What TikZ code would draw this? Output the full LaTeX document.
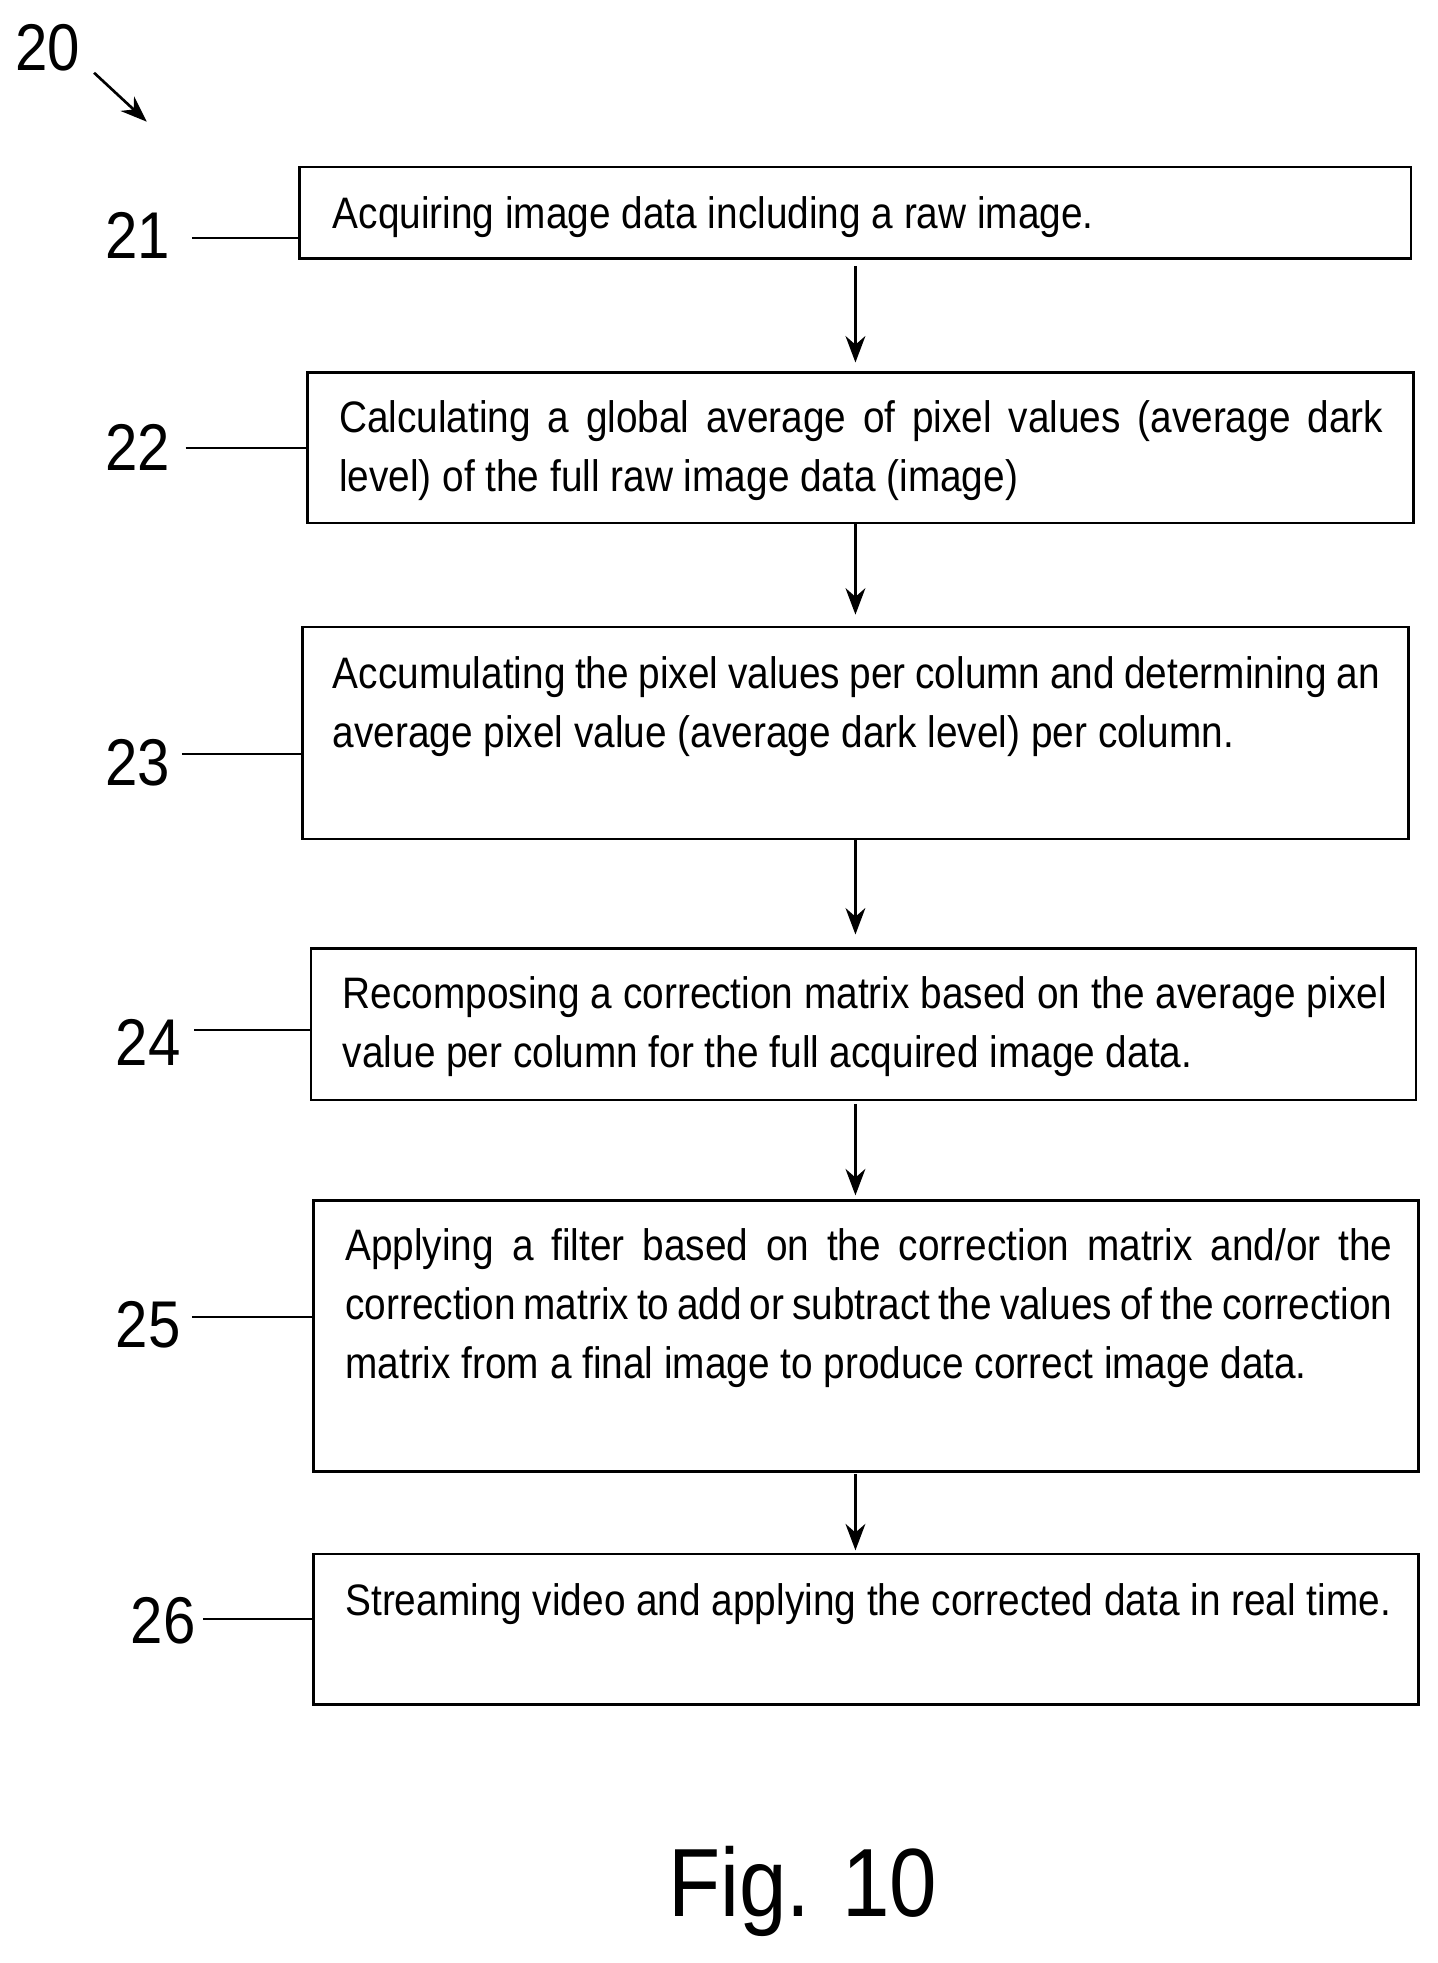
\documentclass[tikz,border=0pt]{standalone}
\usepackage{fontspec}
\setmainfont{Liberation Sans}[FakeStretch=0.88]
\usetikzlibrary{arrows.meta}
\newcommand\myNoHy{\hyphenpenalty=10000 \exhyphenpenalty=10000 }
\begin{document}
\begin{tikzpicture}[x=0.02cm,y=-0.02cm,
  box/.style={draw,line width=1.2pt},
  txt/.style={anchor=north west,inner sep=0pt,align=justify,font={\fontsize{20}{26.8}\selectfont\myNoHy}},
  lab/.style={font=\fontsize{30}{32}\selectfont,inner sep=0pt},
  arr/.style={line width=1.2pt,-{Stealth[length=12pt,width=9pt]}},
  lead/.style={line width=0.8pt}]
\useasboundingbox (0,0) rectangle (1146,1565);
% boxes
\draw[box] (239,133) rectangle (1125,206); \coordinate (b21w) at (239,190);
\draw[box] (245,297) rectangle (1127,417); \coordinate (b22w) at (245,357);
\draw[box] (241,500) rectangle (1123,669); \coordinate (b23w) at (241,601);
\draw[box] (248,756) rectangle (1129,877); \coordinate (b24w) at (248,821);
\draw[box] (250,957) rectangle (1131,1173); \coordinate (b25w) at (250,1050);
\draw[box] (250,1239) rectangle (1131,1359); \coordinate (b26w) at (250,1291);
% texts
\node[txt,text width=17.2cm] (t21) at (265,156) {Acquiring image data including a raw image.};
\node[txt,text width=16.65cm] (t22) at (270,319) {Calculating a global average of pixel values (average dark level) of the full raw image data (image)};
\node[txt,text width=16.7cm] (t23) at (265,523) {Accumulating the pixel values per column and determining an average pixel value (average dark level) per column.};
\node[txt,text width=16.65cm] (t24) at (273,778) {Recomposing a correction matrix based on the average pixel value per column for the full acquired image data.};
\node[txt,text width=16.7cm] (t25) at (275,979) {Applying a filter based on the correction matrix and/or the correction matrix to add or subtract the values of the correction matrix from a final image to produce correct image data.};
\node[txt,text width=16.7cm] (t26) at (275,1262) {Streaming video and applying the corrected data in real time.};
% arrows
\coordinate (a1) at (682,212); \coordinate (a1e) at (682,289);
\coordinate (a2) at (682,417); \coordinate (a2e) at (682,490);
\coordinate (a3) at (682,670); \coordinate (a3e) at (682,745);
\coordinate (a4) at (682,880); \coordinate (a4e) at (682,953);
\coordinate (a5) at (682,1175); \coordinate (a5e) at (682,1236);
\foreach \i in {1,...,5} \draw[arr] (a\i) -- (a\i e);
% labels
\node[lab] (l21) at (110,188) {21}; \draw[lead] (153,190) -- (b21w);
\node[lab] (l22) at (110,357) {22}; \draw[lead] (148,357) -- (b22w);
\node[lab] (l23) at (110,608) {23}; \draw[lead] (145,601) -- (b23w);
\node[lab] (l24) at (118,831) {24}; \draw[lead] (155,821) -- (b24w);
\node[lab] (l25) at (118,1056) {25}; \draw[lead] (153,1050) -- (b25w);
\node[lab] (l26) at (130,1292) {26}; \draw[lead] (162,1291) -- (b26w);
\node[lab] (l20) at (38,38) {20};
\coordinate (p20) at (75,58); \coordinate (p20e) at (117,97);
\draw[line width=1.2pt,-{Stealth[length=12pt,width=9pt]}] (p20) -- (p20e);
\node[font=\fontsize{44}{46}\selectfont,inner sep=0pt] (fig) at (640,1508) {Fig. 10};
\end{tikzpicture}
\end{document}
